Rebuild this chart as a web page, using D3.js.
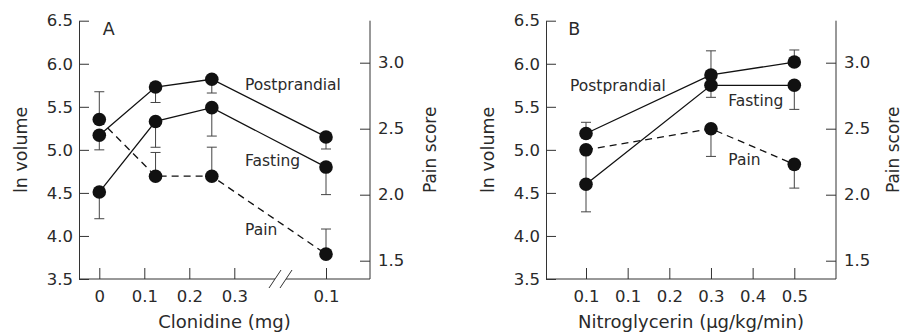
<!DOCTYPE html>
<html>
<head>
<meta charset="utf-8">
<script src="https://cdn.jsdelivr.net/npm/d3@7"></script>
<style>
  body { margin: 0; background: #fff; }
  svg text { font-family: "DejaVu Sans", sans-serif; fill: #2a2a2a; }
</style>
</head>
<body>
<div id="chart"></div>
<script>
// axis ticks
const volTicks = [3.5, 4.0, 4.5, 5.0, 5.5, 6.0, 6.5];
const painTicks = [1.5, 2.0, 2.5, 3.0];

// panel A - clonidine, the last point sits after the axis break
const aTicks1 = [0, 0.1, 0.2, 0.3];
const aTicks2 = [0.1];
const aDose = [0, 0.125, 0.25, 0.1];
const aSeg = [0, 0, 0, 1];
const aPost = [5.17, 5.73, 5.82, 5.15];
const aPostErr = [5.00, 5.55, 5.66, 5.01];
const aFast = [4.51, 5.33, 5.49, 4.80];
const aFastErr = [4.20, 5.03, 5.16, 4.48];
const aPain = [2.57, 2.14, 2.14, 1.55];
const aPainErr = [2.78, 2.32, 2.36, 1.74];

// panel B - nitroglycerin
const bTicks = [0, 0.1, 0.2, 0.3, 0.4, 0.5];
const bTickLabels = ["0.1", "0.1", "0.2", "0.3", "0.4", "0.5"];
const bDose = [0, 0.3, 0.5];
const bPost = [5.19, 5.87, 6.02];
const bPostErr = [5.32, 6.15, 6.16];
const bFast = [4.60, 5.75, 5.75];
const bFastErr = [4.28, 5.61, 5.47];
const bPain = [2.34, 2.50, 2.23];
const bPainErr = [2.08, 2.29, 2.05];

const W = 904, H = 333;
const yTop = 20.7, yBottom = 279;

const svg = d3.select("#chart").append("svg")
  .attr("width", W)
  .attr("height", H);

const yVol = d3.scaleLinear().domain([3.5, 6.5]).range([yBottom, yTop]);
const yPain = d3.scaleLinear().domain([1.5, 3.0]).range([260.7, 62.7]);

function fmt(d) { return d3.format(".1f")(d); }

function drawPanel(p) {
  const g = svg.append("g");

  // left axis
  g.append("g")
    .attr("class", "axis")
    .attr("transform", "translate(" + p.left + ",0)")
    .call(d3.axisLeft(yVol).tickValues(volTicks).tickFormat(fmt).tickSize(-10).tickSizeOuter(0).tickPadding(6));

  // right axis
  const ra = g.append("g")
    .attr("class", "axis")
    .attr("transform", "translate(" + p.right + ",0)")
    .call(d3.axisRight(yPain).tickValues(painTicks).tickFormat(fmt).tickSize(-10).tickPadding(8));
  ra.select(".domain").remove();
  ra.append("line").attr("y1", yTop).attr("y2", yBottom).attr("stroke", "#333");

  // x axis ticks
  p.xScales.forEach(s => {
    const xa = g.append("g")
      .attr("class", "axis")
      .attr("transform", "translate(0," + yBottom + ")")
      .call(d3.axisBottom(s.scale).tickValues(s.ticks)
        .tickFormat((d, j) => s.labels ? s.labels[j] : d3.format("")(d))
        .tickSize(-11).tickPadding(11));
    xa.select(".domain").remove();
  });

  // baseline (with gap for the break)
  p.baseline.forEach(seg => {
    g.append("line")
      .attr("x1", seg[0]).attr("x2", seg[1])
      .attr("y1", yBottom).attr("y2", yBottom)
      .attr("stroke", "#333");
  });
  if (p.breakAt) {
    [-5.5, 5.5].forEach(off => {
      g.append("line")
        .attr("x1", p.breakAt + off - 6).attr("y1", yBottom + 9)
        .attr("x2", p.breakAt + off + 6).attr("y2", yBottom - 9)
        .attr("stroke", "#333");
    });
  }

  g.selectAll(".axis text").style("font-size", "16.5px").attr("fill", "#2a2a2a");
  g.selectAll(".axis line").attr("stroke", "#333");
  g.selectAll(".axis path").attr("stroke", "#333");

  // series
  p.series.forEach(s => {
    const pts = s.vals.map((v, i) => ({
      x: p.xPos(i),
      y: s.y(v),
      e: s.y(s.err[i])
    }));
    g.append("path")
      .datum(pts)
      .attr("fill", "none")
      .attr("stroke", "#111")
      .attr("stroke-width", 1.3)
      .attr("stroke-dasharray", s.dashed ? "7,5" : null)
      .attr("d", d3.line().x(d => d.x).y(d => d.y));

    const eb = g.append("g").selectAll("g").data(pts).enter().append("g");
    eb.append("line")
      .attr("x1", d => d.x).attr("x2", d => d.x)
      .attr("y1", d => d.y).attr("y2", d => d.e)
      .attr("stroke", "#444").attr("stroke-width", 1);
    eb.append("line")
      .attr("x1", d => d.x - 5).attr("x2", d => d.x + 5)
      .attr("y1", d => d.e).attr("y2", d => d.e)
      .attr("stroke", "#444").attr("stroke-width", 1);

    s.pts = pts;
  });

  p.series.forEach(s => {
    g.append("g").selectAll("circle").data(s.pts).enter().append("circle")
      .attr("cx", d => d.x).attr("cy", d => d.y)
      .attr("r", 6.8)
      .attr("fill", "#111");
  });

  // labels
  p.labels.forEach(l => {
    g.append("text")
      .attr("x", l.x).attr("y", l.y)
      .attr("dy", "0.35em")
      .style("font-size", l.size || "15.5px")
      .text(l.text);
  });

  // axis titles
  const mid = (yTop + yBottom) / 2;
  g.append("text")
    .attr("transform", "translate(" + p.leftTitleX + "," + mid + ") rotate(-90)")
    .attr("text-anchor", "middle").attr("dy", "0.35em")
    .style("font-size", "17.5px")
    .text("ln volume");
  g.append("text")
    .attr("transform", "translate(" + p.rightTitleX + "," + mid + ") rotate(-90)")
    .attr("text-anchor", "middle").attr("dy", "0.35em")
    .style("font-size", "17px")
    .text("Pain score");
  g.append("text")
    .attr("x", (p.left + p.right) / 2).attr("y", 321.7)
    .attr("text-anchor", "middle").attr("dy", "0.35em")
    .style("font-size", "18px")
    .text(p.xTitle);
}

// panel A scales
const xA1 = d3.scaleLinear().domain([0, 0.3]).range([99.3, 234.3]);
const xA2 = d3.scaleLinear().domain([0, 0.1]).range([281, 326]);
const xAs = [xA1, xA2];

drawPanel({
  left: 79, right: 370,
  xScales: [
    { scale: xA1, ticks: aTicks1 },
    { scale: xA2, ticks: aTicks2 }
  ],
  baseline: [[79, 275], [286, 370]],
  breakAt: 280.5,
  xPos: i => xAs[aSeg[i]](aDose[i]),
  series: [
    { vals: aPain, err: aPainErr, y: yPain, dashed: true },
    { vals: aPost, err: aPostErr, y: yVol },
    { vals: aFast, err: aFastErr, y: yVol }
  ],
  labels: [
    { text: "A", x: 102.7, y: 29.3, size: "17.5px" },
    { text: "Postprandial", x: 245, y: 85 },
    { text: "Fasting", x: 245, y: 161 },
    { text: "Pain", x: 245, y: 229.3 }
  ],
  leftTitleX: 20.7, rightTitleX: 430,
  xTitle: "Clonidine (mg)"
});

// panel B scales
const xB = d3.scaleLinear().domain([0, 0.5]).range([586, 794.3]);

drawPanel({
  left: 546, right: 836,
  xScales: [
    { scale: xB, ticks: bTicks, labels: bTickLabels }
  ],
  baseline: [[546, 836]],
  xPos: i => xB(bDose[i]),
  series: [
    { vals: bPain, err: bPainErr, y: yPain, dashed: true },
    { vals: bPost, err: bPostErr, y: yVol },
    { vals: bFast, err: bFastErr, y: yVol }
  ],
  labels: [
    { text: "B", x: 568.3, y: 29.3, size: "17.5px" },
    { text: "Postprandial", x: 570, y: 86 },
    { text: "Fasting", x: 728.3, y: 100.7 },
    { text: "Pain", x: 728.3, y: 160 }
  ],
  leftTitleX: 487.7, rightTitleX: 893.5,
  xTitle: "Nitroglycerin (μg/kg/min)"
});
</script>
</body>
</html>
